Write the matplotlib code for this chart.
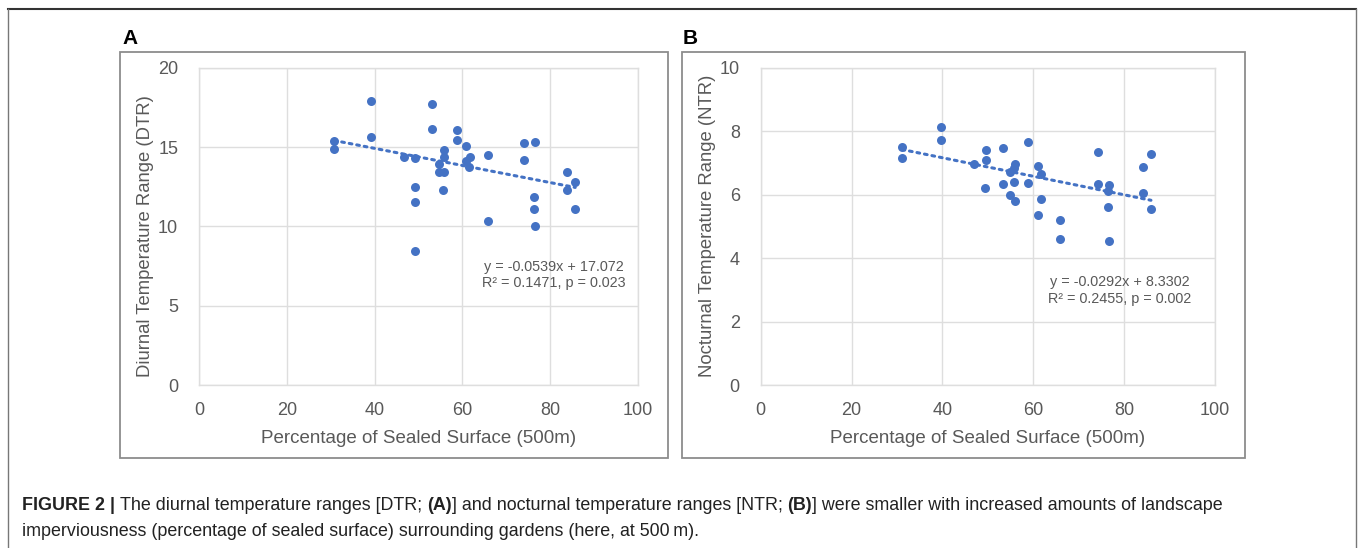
import matplotlib
matplotlib.use('Agg')
import matplotlib.pyplot as plt
from matplotlib.patches import Rectangle
from matplotlib.lines import Line2D
import numpy as np

plt.rcParams['font.family'] = ['Liberation Sans', 'DejaVu Sans']

# panel A: diurnal temperature range vs sealed surface
sealed_a = [30.8, 30.8, 39.2, 39.2, 46.7, 49.2, 49.2, 49.2, 49.2, 53.0, 53.0, 55.7,
            55.7, 54.7, 54.7, 55.7, 55.5, 58.7, 58.7, 60.8, 61.7, 60.8, 61.6, 65.9,
            65.9, 74.0, 74.0, 76.5, 76.2, 76.2, 76.5, 83.9, 83.9, 85.7, 85.7]
dtr = [15.38, 14.9, 17.9, 15.65, 14.35, 14.28, 12.45, 11.56, 8.42, 17.72, 16.14, 14.81,
       14.39, 13.9, 13.42, 13.44, 12.28, 16.1, 15.42, 15.06, 14.39, 14.11, 13.75, 14.49,
       10.35, 15.25, 14.18, 15.34, 11.87, 11.08, 10.0, 13.42, 12.32, 12.82, 11.1]
fit_a = (-0.0539, 17.072)
eq_a = ["y = -0.0539x + 17.072", "R\u00b2 = 0.1471, p = 0.023"]

# panel B: nocturnal temperature range vs sealed surface
sealed_b = [31.1, 31.1, 39.6, 39.6, 47.0, 49.5, 49.5, 49.4, 53.3, 53.3, 55.9, 55.7,
            54.9, 55.7, 54.9, 55.9, 58.8, 58.8, 61.0, 61.8, 61.8, 61.0, 65.9, 65.9,
            74.2, 74.2, 76.7, 76.4, 76.4, 76.7, 84.1, 84.1, 85.9, 85.9]
ntr = [7.51, 7.15, 8.12, 7.73, 6.97, 7.40, 7.10, 6.22, 7.47, 6.34, 6.95, 6.85,
       6.72, 6.40, 6.00, 5.80, 7.67, 6.36, 6.89, 6.66, 5.85, 5.35, 5.20, 4.59,
       7.33, 6.34, 6.30, 6.11, 5.60, 4.53, 6.86, 6.05, 7.27, 5.54]
fit_b = (-0.0292, 8.3302)
eq_b = ["y = -0.0292x + 8.3302", "R\u00b2 = 0.2455, p = 0.002"]

xticks = [0, 20, 40, 60, 80, 100]
W, H = 1362, 548
blue = '#4472C4'
grey_txt = '#595959'
grid_c = '#dedede'

fig = plt.figure(figsize=(W / 100, H / 100), dpi=100)


def fx(px):
    return px / W


def fy(py):
    return 1 - py / H


def rect(x0, y0, x1, y1):
    return [fx(x0), fy(y1), fx(x1) - fx(x0), fy(y0) - fy(y1)]


# outer frame
fig.add_artist(Line2D([fx(8), fx(1356)], [fy(9), fy(9)], color='#333333', lw=1.5))
fig.add_artist(Line2D([fx(8), fx(8)], [fy(9), fy(548)], color='#777777', lw=1))
fig.add_artist(Line2D([fx(1356), fx(1356)], [fy(9), fy(548)], color='#777777', lw=1))

# panel boxes
for (x0, x1) in [(120.5, 667.5), (682.5, 1244.5)]:
    fig.add_artist(Rectangle((fx(x0), fy(458)), fx(x1) - fx(x0), fy(52) - fy(458),
                             fill=False, ec='#8c8c8c', lw=1.3))

fig.text(fx(122), fy(44), 'A', fontsize=15, fontweight='bold', ha='left', va='baseline')
fig.text(fx(683), fy(44), 'B', fontsize=15, fontweight='bold', ha='left', va='baseline')

panels = [
    (rect(199, 67.7, 638, 385), sealed_a, dtr, fit_a, eq_a, (0, 20), [0, 5, 10, 15, 20],
     'Diurnal Temperature Range (DTR)', (146, 236), (554, 275)),
    (rect(760.7, 67.7, 1215, 385), sealed_b, ntr, fit_b, eq_b, (0, 10), [0, 2, 4, 6, 8, 10],
     'Nocturnal Temperature Range (NTR)', (707, 226), (1120, 290.5)),
]

for pos, xs, ys, fit, eq, ylim, yticks, ylab, ylab_pos, eq_pos in panels:
    ax = fig.add_axes(pos)
    ax.scatter(xs, ys, s=42, color=blue, zorder=3, linewidths=0)
    lx = np.array([min(xs), max(xs)])
    ax.plot(lx, fit[0] * lx + fit[1], color=blue, lw=2.2, ls=(0, (0.9, 1.6)),
            dash_capstyle='round', zorder=2)
    ax.set_xlim(0, 100)
    ax.set_ylim(*ylim)
    ax.set_xticks(xticks)
    ax.set_yticks(yticks)
    ax.grid(True, color=grid_c, lw=1)
    ax.set_axisbelow(True)
    for sp in ax.spines.values():
        sp.set_color(grid_c)
        sp.set_linewidth(1)
    ax.tick_params(length=0, labelsize=13, labelcolor=grey_txt, pad=12)
    ax.tick_params(axis='y', pad=15)
    ax.set_xlabel('Percentage of Sealed Surface (500m)', fontsize=13.5, color=grey_txt,
                  labelpad=8)
    fig.text(fx(ylab_pos[0]), fy(ylab_pos[1]), ylab, rotation=90, fontsize=13.3,
             color=grey_txt, ha='center', va='center')
    fig.text(fx(eq_pos[0]), fy(eq_pos[1]), eq[0] + '\n' + eq[1], fontsize=10.4,
             color=grey_txt, ha='center', va='center', linespacing=1.2)

# caption with bold pieces
line1 = [('FIGURE 2 | ', 'bold'), ('The diurnal temperature ranges [DTR; ', 'normal'),
         ('(A)', 'bold'), ('] and nocturnal temperature ranges [NTR; ', 'normal'),
         ('(B)', 'bold'), ('] were smaller with increased amounts of landscape', 'normal')]
line2 = 'imperviousness (percentage of sealed surface) surrounding gardens (here, at 500\u2009m).'
cap_fs = 12.9

prev = fig.text(fx(22), fy(510), line1[0][0], fontsize=cap_fs, fontweight=line1[0][1],
                color='#222222', va='baseline')
for txt, w in line1[1:]:
    prev = fig.add_artist(plt.Annotation(
        txt, xy=(1, 0), xycoords=prev, xytext=(0, 0), textcoords='offset points',
        fontsize=cap_fs, fontweight=w, color='#222222', va='bottom', ha='left',
        annotation_clip=False))
fig.text(fx(22), fy(536), line2, fontsize=cap_fs, color='#222222', va='baseline')

fig.savefig('out.png', dpi=100)
